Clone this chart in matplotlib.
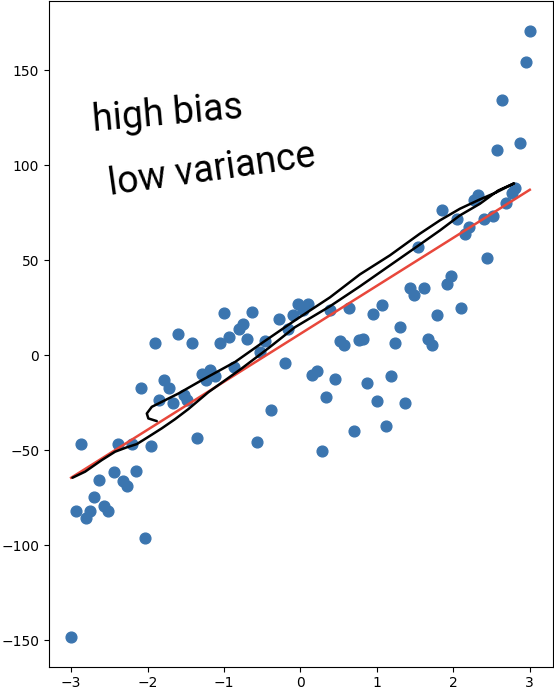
import matplotlib
matplotlib.use("Agg")
import matplotlib.pyplot as plt

# scatter data
x = [3.000, 2.944, 2.630, 2.575, 2.869, 1.854, 2.324, 2.275, 2.804, 2.767,
     2.690, 2.401, 2.520, 2.042, 2.205, 2.154, 2.444,
     0.386, 0.634, 0.944, 1.065, 1.301, 1.431, 1.484, 1.614, 1.780, 1.536,
     1.911, 1.963, 2.094, 1.663, 1.723,
     0.516, 0.575, 0.769, 0.824, 1.239,
     -0.277, -0.159, -0.094, -0.029, 0.094, 0.037,
     0.146, 0.212, 0.451, 0.333, 0.873, 1.187, 1.000, 1.366, 1.118, 0.703,
     0.277, -0.203, -0.390, -0.573, -0.529,
     -1.906, -1.605, -1.422, -1.056, -0.996, -0.941, -0.810, -0.752, -0.703,
     -0.630, -0.464, -1.292, -1.183, -1.235, -1.118, -0.865,
     -2.089, -1.784, -1.719, -1.852, -1.667, -1.529, -1.484, -1.359,
     -2.869, -2.390, -2.199, -1.961, -2.444, -2.148, -2.631, -2.320, -2.272,
     -2.695, -2.569, -2.512, -2.939, -2.756, -2.810, -2.033, -3.000]
y = [170.4, 154.5, 134.5, 108.0, 111.8, 76.6, 84.6, 81.5, 87.8, 85.4,
     80.1, 71.6, 73.2, 71.6, 67.7, 63.7, 51.2,
     23.7, 25.1, 22.0, 26.3, 14.8, 35.6, 31.6, 35.4, 21.1, 56.9,
     37.3, 41.9, 25.1, 8.8, 5.6,
     7.7, 5.3, 7.9, 8.5, 6.4,
     19.3, 13.6, 21.1, 26.8, 27.2, 23.7,
     -10.5, -8.2, -12.6, -21.7, -14.8, -11.0, -23.9, -25.0, -37.2, -39.9,
     -50.4, -3.9, -28.5, -45.5, 1.8,
     6.6, 11.4, 6.7, 6.7, 22.1, 9.7, 13.7, 16.7, 8.5,
     22.6, 7.7, -9.6, -7.8, -13.1, -11.0, -6.1,
     -17.1, -13.1, -17.0, -23.4, -25.3, -20.7, -23.6, -43.3,
     -46.8, -46.8, -46.8, -47.8, -61.6, -60.9, -65.6, -65.9, -68.5,
     -74.4, -79.1, -81.9, -81.9, -81.9, -85.6, -96.2, -148.1]

# fitted straight line
fit_x = [-3.0, 3.0]
fit_y = [-64.4, 87.1]

# hand drawn stroke
sketch_x = [-2.983, -2.817, -2.599, -2.425, -2.272, -2.141, -1.990, -1.814,
            -1.641, -1.467, -1.205, -0.769, -0.421, -0.072, 0.386, 0.778,
            1.170, 1.562, 1.824, 2.085, 2.346, 2.586, 2.795,
            2.565, 2.346, 2.085, 1.824, 1.562, 1.170, 0.778, 0.386, -0.072,
            -0.507, -0.856, -1.292, -1.597, -1.771, -1.945, -2.010, -1.990,
            -1.880]
sketch_y = [-64.4, -61.2, -55.1, -50.7, -48.4, -46.7, -42.9, -38.4,
            -33.6, -28.3, -19.4, -6.9, 3.7, 14.8, 25.8, 36.3,
            47.3, 58.3, 65.7, 73.6, 79.7, 86.7, 90.5,
            85.8, 82.0, 77.1, 71.0, 64.0, 52.6, 42.6, 30.5, 18.4,
            6.4, -3.5, -13.1, -20.1, -23.6, -27.1, -30.6, -33.2,
            -34.6]

fig = plt.figure(figsize=(5.54, 6.93), dpi=100)
ax = fig.add_axes([0.0884, 0.038, 0.9093, 0.9605])

ax.scatter(x, y, s=60, color="#3b75af", zorder=2)
ax.plot(fit_x, fit_y, color="#e8473b", lw=1.8, zorder=3)
ax.plot(sketch_x, sketch_y, color="black", lw=1.8, zorder=4,
        solid_capstyle="round", solid_joinstyle="round")

# handwritten notes
ax.text(-2.71, 118.2, "high bias", fontsize=27, rotation=5,
        rotation_mode="anchor", ha="left", va="baseline",
        family=["Roboto", "DejaVu Sans"], color="black")
ax.text(-2.49, 84.1, "low variance", fontsize=27, rotation=8,
        rotation_mode="anchor", ha="left", va="baseline",
        family=["Roboto", "DejaVu Sans"], color="black")

ax.set_xlim(-3.29, 3.30)
ax.set_ylim(-163.8, 186.4)
ax.set_xticks([-3, -2, -1, 0, 1, 2, 3])
ax.set_yticks([-150, -100, -50, 0, 50, 100, 150])

fig.savefig("out.png", dpi=100)
